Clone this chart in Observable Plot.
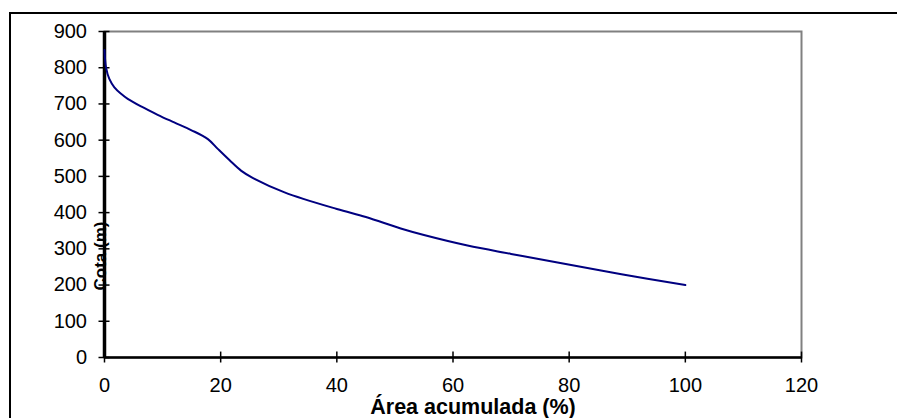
<!DOCTYPE html>
<html>
<head>
<meta charset="utf-8">
<script src="https://cdn.jsdelivr.net/npm/d3@7"></script>
<script src="https://cdn.jsdelivr.net/npm/@observablehq/plot@0.6"></script>
<style>
  html, body { margin: 0; padding: 0; background: #fff; }
  #wrap { position: relative; width: 897px; height: 418px; overflow: hidden; background: #fff; }
  #outer { position: absolute; left: 9px; top: 12px; width: 1000px; height: 1000px; border: 2px solid #000; box-sizing: border-box; }
  #chart { position: absolute; left: 0; top: 0; }
  #chart g[aria-label$="tick label"] text { font-size: 20px !important; }
</style>
</head>
<body>
<div id="wrap"><div id="outer"></div><div id="chart"></div></div>
<script>
// Área acumulada (%) vs Cota (m)
const areaAcumulada = [0, 0.26, 0.83, 1.7, 2.85, 4, 6.3, 9.15, 12, 14.9, 17.8, 19.5, 21.5, 23.5, 25.5, 31, 40, 45, 51, 55, 62.5, 70, 78, 89, 100];
const cota =          [849, 801, 769, 746, 728, 714, 693, 670, 649, 628, 603, 576, 545, 516, 496, 456, 410, 388, 356, 338, 309, 286, 262, 230, 200];
const xTicks = [0, 20, 40, 60, 80, 100, 120];
const yTicks = [0, 100, 200, 300, 400, 500, 600, 700, 800, 900];
const xTitle = "Área acumulada (%)";
const yTitle = "Cota (m)";

const data = areaAcumulada.map((a, i) => ({area: a, cota: cota[i]}));

const font = "'Liberation Sans', Arial, Helvetica, sans-serif";

const chart = Plot.plot({
  width: 897,
  height: 418,
  marginLeft: 104,
  marginRight: 96,
  marginTop: 31,
  marginBottom: 61,
  style: {fontFamily: font, fontSize: "20px", background: "transparent", overflow: "visible"},
  x: {domain: [0, 120]},
  y: {domain: [0, 900]},
  marks: [
    Plot.frame({stroke: "#808080", strokeWidth: 2}),
    Plot.axisX({ticks: xTicks, tickSize: 5.5, tickPadding: 15, fontSize: 20, label: null, stroke: "#000", strokeWidth: 1.5, color: "#000"}),
    Plot.axisY({ticks: yTicks, tickSize: 5.5, tickPadding: 12, fontSize: 20, label: null, stroke: "#000", strokeWidth: 1.5, color: "#000"}),
    Plot.ruleX(xTicks, {x: d => d, y1: 0, y2: 15, stroke: "#000", strokeWidth: 1.5}),
    Plot.ruleY(yTicks, {y: d => d, x1: 0, x2: 0.95, stroke: "#000", strokeWidth: 1.5}),
    Plot.ruleY([0], {stroke: "#000", strokeWidth: 2.5}),
    Plot.ruleX([0], {stroke: "#000", strokeWidth: 3.5}),
    Plot.line(data, {x: "area", y: "cota", stroke: "#000080", strokeWidth: 2, curve: "catmull-rom"}),
    Plot.text([xTitle], {text: d => d, frameAnchor: "bottom", dx: 20, dy: 56, lineAnchor: "bottom", fontSize: 21.5, fontWeight: "bold", fill: "#000"}),
    Plot.text([yTitle], {text: d => d, frameAnchor: "left", rotate: -90, dx: -4, dy: 96, lineAnchor: "middle", fontSize: 17, fontWeight: "bold", fill: "#000"})
  ]
});
document.getElementById("chart").appendChild(chart);
</script>
</body>
</html>
